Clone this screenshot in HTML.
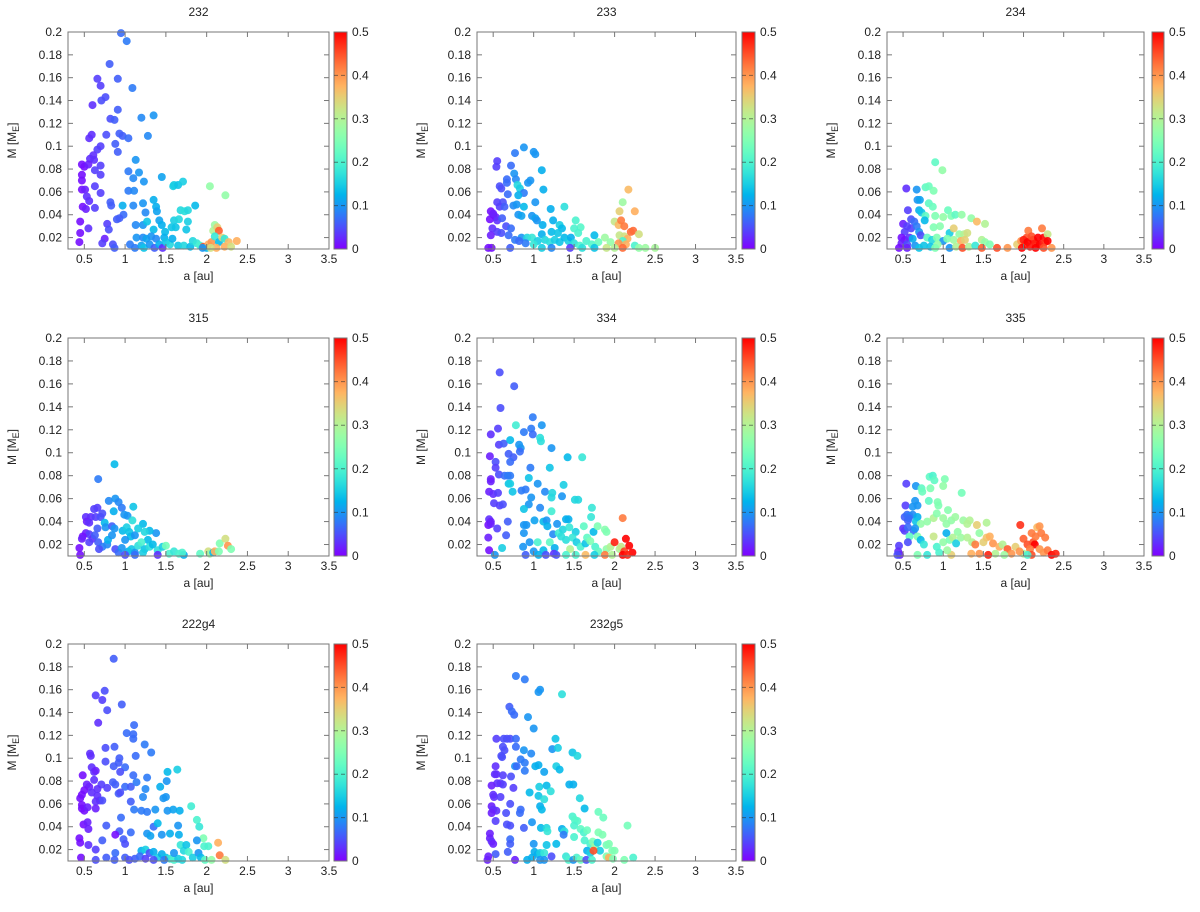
<!DOCTYPE html>
<html><head><meta charset="utf-8"><style>
html,body{margin:0;padding:0;background:#fff;}
svg{display:block;font-family:"Liberation Sans",sans-serif;}
</style></head><body>
<svg id="fig" width="1200" height="912" viewBox="0 0 1200 912" xmlns="http://www.w3.org/2000/svg">
<defs>
<linearGradient id="rb" x1="0" y1="1" x2="0" y2="0"></linearGradient>
</defs>
</svg>
<script>
const xTicks = [0.5,1,1.5,2,2.5,3,3.5];
const xTickLabels = ["0.5","1","1.5","2","2.5","3","3.5"];
const yTicks = [0.02,0.04,0.06,0.08,0.1,0.12,0.14,0.16,0.18,0.2];
const yTickLabels = ["0.02","0.04","0.06","0.08","0.1","0.12","0.14","0.16","0.18","0.2"];
const cbTicks = [0,0.1,0.2,0.3,0.4,0.5];
const cbTickLabels = ["0","0.1","0.2","0.3","0.4","0.5"];
const panelTitles = ["232","233","234","315","334","335","222g4","232g5"];

const pts232 = [[0.95,0.199,0.07],[1.02,0.192,0.08],[0.81,0.172,0.06],[0.66,0.159,0.04],[0.91,0.159,0.06],[0.70,0.153,0.04],[1.09,0.151,0.08],[0.76,0.143,0.05],[0.71,0.140,0.05],[0.60,0.136,0.03],[0.91,0.132,0.06],[1.20,0.125,0.09],[1.35,0.127,0.1],[0.82,0.124,0.05],[0.87,0.123,0.06],[1.28,0.109,0.09],[0.77,0.110,0.05],[0.93,0.111,0.06],[0.97,0.109,0.06],[1.04,0.107,0.07],[0.56,0.107,0.03],[0.59,0.110,0.03],[0.70,0.100,0.04],[0.66,0.097,0.04],[0.88,0.102,0.06],[0.91,0.095,0.06],[0.61,0.092,0.03],[0.57,0.089,0.03],[0.62,0.088,0.03],[0.47,0.084,0.01],[0.50,0.082,0.01],[0.55,0.084,0.02],[0.70,0.083,0.04],[0.63,0.079,0.04],[0.47,0.075,0.01],[0.70,0.075,0.04],[1.04,0.078,0.08],[1.13,0.088,0.1],[1.17,0.077,0.1],[1.10,0.072,0.09],[1.23,0.069,0.1],[1.45,0.073,0.11],[0.47,0.070,0.01],[0.47,0.062,0.01],[0.51,0.062,0.02],[0.63,0.065,0.04],[0.70,0.059,0.04],[1.04,0.061,0.08],[1.11,0.061,0.09],[1.59,0.065,0.15],[1.60,0.066,0.15],[1.65,0.066,0.14],[1.71,0.069,0.15],[2.04,0.065,0.27],[2.23,0.057,0.27],[0.53,0.056,0.03],[0.56,0.052,0.03],[0.48,0.047,0.01],[0.52,0.045,0.02],[0.63,0.046,0.04],[0.82,0.051,0.06],[0.83,0.048,0.06],[0.97,0.048,0.12],[1.10,0.048,0.09],[1.22,0.050,0.1],[1.35,0.053,0.12],[1.38,0.047,0.12],[1.39,0.043,0.11],[1.25,0.042,0.09],[1.86,0.048,0.13],[1.68,0.044,0.16],[1.73,0.043,0.17],[1.77,0.044,0.16],[0.90,0.036,0.06],[0.98,0.040,0.07],[0.93,0.037,0.06],[0.45,0.034,0.01],[0.78,0.032,0.04],[0.80,0.027,0.05],[0.55,0.028,0.03],[0.45,0.024,0.01],[0.44,0.016,0.01],[0.75,0.019,0.02],[0.72,0.015,0.04],[0.85,0.014,0.05],[0.87,0.011,0.06],[1.13,0.031,0.09],[1.22,0.031,0.1],[1.27,0.034,0.14],[1.35,0.027,0.13],[1.42,0.035,0.11],[1.45,0.031,0.12],[1.49,0.025,0.13],[1.48,0.020,0.12],[1.57,0.029,0.14],[1.60,0.035,0.15],[1.62,0.029,0.14],[1.66,0.036,0.16],[1.77,0.034,0.15],[1.75,0.027,0.14],[1.14,0.020,0.1],[1.22,0.020,0.09],[1.26,0.019,0.11],[1.32,0.021,0.1],[1.38,0.019,0.09],[1.06,0.014,0.08],[1.12,0.011,0.08],[1.20,0.013,0.11],[1.23,0.011,0.14],[1.30,0.014,0.1],[1.36,0.011,0.06],[1.42,0.014,0.12],[1.46,0.011,0.03],[1.50,0.016,0.14],[1.55,0.014,0.16],[1.58,0.019,0.12],[1.65,0.013,0.14],[1.72,0.013,0.16],[1.80,0.012,0.13],[1.83,0.017,0.16],[1.88,0.015,0.18],[1.92,0.013,0.2],[1.96,0.012,0.45],[2.00,0.011,0.13],[2.02,0.014,0.38],[2.06,0.016,0.4],[2.08,0.026,0.3],[2.10,0.031,0.28],[2.13,0.029,0.35],[2.15,0.026,0.44],[2.10,0.021,0.18],[2.15,0.016,0.13],[2.19,0.020,0.35],[2.22,0.019,0.18],[2.22,0.012,0.38],[2.27,0.016,0.37],[2.30,0.012,0.33],[2.37,0.017,0.38],[2.12,0.011,0.38],[2.05,0.011,0.33],[1.95,0.011,0.1]];

const pts233 = [[0.88,0.099,0.1],[1.00,0.095,0.1],[1.02,0.093,0.1],[0.77,0.094,0.08],[0.55,0.087,0.04],[0.54,0.082,0.04],[0.72,0.083,0.07],[1.10,0.079,0.12],[0.76,0.076,0.1],[0.78,0.071,0.09],[0.67,0.071,0.07],[0.67,0.068,0.07],[0.93,0.068,0.1],[0.96,0.070,0.1],[0.80,0.066,0.16],[0.83,0.063,0.15],[0.58,0.065,0.05],[0.60,0.063,0.05],[1.12,0.062,0.12],[0.88,0.059,0.08],[0.68,0.058,0.07],[0.81,0.057,0.12],[0.55,0.051,0.04],[0.62,0.051,0.05],[0.58,0.047,0.04],[0.64,0.047,0.06],[0.75,0.048,0.09],[0.79,0.049,0.1],[0.88,0.047,0.13],[1.02,0.051,0.1],[1.21,0.045,0.12],[1.38,0.047,0.17],[0.47,0.043,0.01],[0.50,0.040,0.01],[0.53,0.038,0.02],[0.46,0.036,0.01],[0.55,0.035,0.03],[0.50,0.041,0.02],[0.61,0.037,0.06],[0.81,0.040,0.1],[0.85,0.039,0.11],[0.98,0.039,0.1],[1.02,0.037,0.11],[1.04,0.035,0.1],[1.11,0.031,0.12],[1.24,0.035,0.12],[1.32,0.031,0.15],[1.35,0.028,0.13],[1.52,0.035,0.2],[1.58,0.029,0.21],[1.50,0.028,0.2],[1.55,0.024,0.2],[1.22,0.025,0.13],[1.30,0.024,0.14],[1.10,0.023,0.12],[0.66,0.030,0.05],[0.72,0.028,0.07],[0.49,0.028,0.03],[0.55,0.025,0.04],[0.47,0.022,0.02],[0.60,0.024,0.05],[0.69,0.022,0.07],[0.77,0.018,0.08],[0.85,0.020,0.1],[0.92,0.020,0.16],[0.98,0.020,0.18],[1.05,0.017,0.15],[1.00,0.014,0.18],[1.14,0.018,0.16],[1.20,0.016,0.17],[1.26,0.018,0.15],[1.32,0.016,0.14],[1.38,0.020,0.13],[1.43,0.017,0.15],[1.46,0.020,0.12],[1.50,0.015,0.17],[1.57,0.013,0.2],[1.65,0.017,0.2],[1.72,0.014,0.21],[1.75,0.022,0.13],[1.80,0.016,0.23],[1.88,0.020,0.28],[1.95,0.016,0.27],[2.00,0.034,0.32],[2.06,0.043,0.35],[2.10,0.051,0.28],[2.17,0.062,0.37],[2.25,0.043,0.38],[2.05,0.031,0.37],[2.08,0.035,0.42],[2.12,0.030,0.42],[2.06,0.022,0.32],[2.12,0.021,0.33],[2.16,0.019,0.38],[2.20,0.025,0.43],[2.23,0.026,0.43],[2.30,0.023,0.33],[2.10,0.017,0.2],[2.05,0.015,0.4],[2.14,0.014,0.38],[2.25,0.013,0.2],[2.30,0.011,0.27],[2.38,0.011,0.28],[2.50,0.011,0.29],[2.00,0.011,0.3],[1.90,0.011,0.32],[2.10,0.011,0.43],[0.44,0.011,0.01],[0.48,0.011,0.01],[0.71,0.011,0.06],[1.10,0.011,0.15],[1.22,0.011,0.09],[1.45,0.011,0.04],[1.60,0.011,0.17],[1.75,0.011,0.14],[0.90,0.015,0.08],[0.82,0.017,0.07]];

const pts234 = [[0.90,0.086,0.22],[0.99,0.079,0.27],[0.54,0.063,0.03],[0.67,0.062,0.1],[0.78,0.064,0.22],[0.82,0.065,0.23],[0.88,0.061,0.25],[0.68,0.053,0.1],[0.71,0.053,0.11],[0.82,0.050,0.22],[0.87,0.047,0.23],[0.56,0.044,0.04],[0.70,0.044,0.12],[0.73,0.042,0.14],[0.78,0.039,0.22],[0.77,0.035,0.13],[1.06,0.044,0.23],[1.10,0.039,0.25],[1.15,0.040,0.22],[1.00,0.038,0.27],[1.23,0.040,0.27],[1.35,0.037,0.27],[1.42,0.034,0.37],[1.52,0.032,0.3],[0.90,0.039,0.25],[0.60,0.036,0.05],[0.64,0.034,0.07],[0.50,0.032,0.02],[0.55,0.030,0.04],[0.60,0.028,0.04],[0.52,0.025,0.04],[0.67,0.030,0.08],[0.70,0.025,0.1],[0.88,0.029,0.25],[0.96,0.030,0.26],[1.08,0.024,0.15],[1.13,0.028,0.35],[1.20,0.023,0.27],[1.26,0.023,0.3],[1.30,0.024,0.33],[0.48,0.020,0.01],[0.52,0.018,0.01],[0.58,0.020,0.03],[0.48,0.015,0.02],[0.55,0.014,0.05],[0.62,0.019,0.12],[0.72,0.022,0.05],[0.80,0.020,0.22],[0.86,0.018,0.16],[0.92,0.020,0.25],[1.00,0.017,0.1],[1.05,0.019,0.25],[1.13,0.018,0.28],[1.22,0.017,0.38],[1.27,0.018,0.35],[1.48,0.018,0.3],[1.52,0.016,0.27],[1.58,0.014,0.25],[0.65,0.013,0.1],[0.76,0.013,0.14],[0.84,0.012,0.14],[0.93,0.014,0.27],[1.08,0.011,0.1],[1.16,0.012,0.3],[1.24,0.011,0.45],[1.32,0.012,0.3],[1.40,0.013,0.18],[1.48,0.011,0.44],[1.67,0.011,0.45],[1.80,0.011,0.4],[1.92,0.014,0.35],[1.97,0.017,0.4],[2.02,0.014,0.45],[2.04,0.020,0.45],[2.06,0.026,0.42],[2.00,0.018,0.48],[2.05,0.016,0.5],[2.08,0.012,0.49],[2.12,0.018,0.5],[2.15,0.015,0.48],[2.10,0.021,0.45],[2.18,0.020,0.5],[2.20,0.014,0.5],[2.23,0.028,0.42],[2.25,0.020,0.5],[2.27,0.016,0.47],[2.30,0.023,0.32],[2.30,0.017,0.5],[2.35,0.011,0.4],[2.15,0.011,0.5],[1.98,0.011,0.5],[2.25,0.011,0.45],[0.45,0.011,0.01],[0.55,0.011,0.02],[0.70,0.011,0.14],[0.90,0.011,0.25]];

const pts315 = [[0.87,0.090,0.13],[0.67,0.077,0.08],[0.80,0.058,0.09],[0.88,0.060,0.1],[0.92,0.057,0.09],[0.96,0.052,0.08],[1.10,0.053,0.14],[0.62,0.051,0.04],[0.66,0.052,0.04],[0.72,0.047,0.05],[0.86,0.049,0.12],[0.99,0.046,0.1],[1.03,0.045,0.1],[0.52,0.044,0.03],[0.58,0.044,0.03],[0.64,0.044,0.04],[0.70,0.044,0.05],[1.09,0.041,0.17],[1.22,0.038,0.13],[1.38,0.030,0.1],[1.30,0.032,0.13],[0.75,0.039,0.13],[0.76,0.035,0.1],[0.84,0.036,0.06],[0.87,0.034,0.1],[0.97,0.032,0.13],[1.02,0.035,0.15],[1.05,0.031,0.14],[1.07,0.027,0.13],[1.12,0.028,0.1],[1.16,0.034,0.15],[1.24,0.031,0.16],[1.28,0.024,0.13],[0.53,0.040,0.02],[0.56,0.039,0.03],[0.66,0.034,0.06],[0.52,0.030,0.02],[0.56,0.029,0.04],[0.48,0.027,0.01],[0.60,0.025,0.03],[0.63,0.028,0.06],[0.67,0.022,0.06],[0.72,0.018,0.08],[0.68,0.016,0.05],[0.78,0.020,0.09],[0.79,0.024,0.12],[0.84,0.028,0.1],[0.88,0.016,0.05],[0.92,0.013,0.07],[0.96,0.017,0.1],[1.00,0.024,0.1],[1.04,0.014,0.12],[1.08,0.016,0.14],[1.12,0.013,0.1],[1.16,0.019,0.17],[1.20,0.022,0.2],[1.24,0.016,0.14],[1.30,0.018,0.17],[1.34,0.020,0.13],[1.40,0.015,0.17],[1.46,0.018,0.15],[1.50,0.019,0.24],[1.54,0.012,0.2],[1.60,0.014,0.18],[1.66,0.012,0.2],[1.72,0.011,0.12],[1.70,0.013,0.2],[1.92,0.012,0.22],[2.02,0.014,0.33],[2.04,0.012,0.28],[2.08,0.013,0.13],[2.10,0.014,0.38],[2.16,0.021,0.25],[2.15,0.014,0.25],[2.23,0.025,0.33],[2.26,0.019,0.4],[2.30,0.016,0.25],[0.44,0.017,0.01],[0.45,0.011,0.01],[0.47,0.025,0.02],[1.00,0.011,0.05],[1.12,0.011,0.07],[1.40,0.011,0.03],[1.22,0.013,0.15],[0.56,0.022,0.04]];

const pts334 = [[0.58,0.170,0.05],[0.76,0.158,0.06],[0.59,0.139,0.05],[0.99,0.131,0.08],[0.78,0.124,0.19],[0.56,0.121,0.04],[0.47,0.116,0.03],[0.88,0.118,0.08],[0.97,0.121,0.08],[0.99,0.116,0.07],[1.10,0.124,0.1],[1.08,0.113,0.17],[1.09,0.110,0.17],[0.57,0.107,0.04],[0.63,0.108,0.06],[0.71,0.111,0.13],[0.82,0.107,0.1],[0.84,0.104,0.1],[1.22,0.104,0.1],[0.46,0.097,0.02],[0.69,0.099,0.06],[0.75,0.096,0.06],[0.71,0.092,0.07],[0.83,0.101,0.07],[0.53,0.092,0.05],[0.53,0.087,0.04],[0.96,0.087,0.08],[1.20,0.087,0.14],[1.42,0.096,0.13],[1.60,0.096,0.18],[0.57,0.081,0.05],[0.64,0.080,0.07],[0.68,0.080,0.08],[0.71,0.080,0.08],[0.47,0.077,0.02],[0.47,0.075,0.02],[0.94,0.078,0.14],[1.05,0.073,0.1],[0.69,0.073,0.14],[0.71,0.073,0.15],[1.37,0.072,0.15],[0.45,0.066,0.02],[0.50,0.064,0.03],[0.56,0.065,0.04],[0.74,0.066,0.14],[0.85,0.067,0.08],[0.90,0.068,0.08],[1.14,0.066,0.09],[1.23,0.065,0.16],[1.22,0.061,0.16],[1.35,0.062,0.1],[1.51,0.059,0.16],[1.55,0.059,0.16],[0.51,0.056,0.04],[0.58,0.054,0.04],[0.62,0.055,0.05],[0.94,0.055,0.1],[0.97,0.061,0.1],[0.88,0.051,0.14],[1.08,0.052,0.09],[1.22,0.049,0.19],[1.72,0.052,0.18],[0.45,0.042,0.03],[0.47,0.040,0.02],[0.44,0.037,0.01],[0.47,0.038,0.02],[0.68,0.040,0.06],[0.88,0.037,0.1],[0.91,0.037,0.1],[1.01,0.041,0.11],[1.12,0.040,0.13],[1.16,0.041,0.1],[1.17,0.036,0.12],[1.24,0.029,0.09],[1.29,0.038,0.1],[1.31,0.030,0.19],[1.36,0.033,0.16],[1.40,0.042,0.12],[1.43,0.042,0.12],[1.44,0.035,0.18],[1.52,0.031,0.15],[1.62,0.036,0.22],[1.71,0.044,0.18],[1.74,0.031,0.13],[1.79,0.036,0.25],[1.88,0.033,0.26],[1.90,0.031,0.25],[2.10,0.043,0.42],[0.55,0.034,0.04],[0.66,0.028,0.06],[0.88,0.030,0.1],[0.44,0.026,0.02],[0.45,0.015,0.01],[0.61,0.017,0.15],[0.52,0.011,0.1],[0.87,0.018,0.1],[0.95,0.022,0.1],[1.05,0.022,0.2],[1.12,0.015,0.13],[1.20,0.022,0.22],[1.26,0.017,0.12],[1.34,0.027,0.17],[1.40,0.024,0.17],[1.45,0.016,0.3],[1.48,0.026,0.18],[1.53,0.022,0.15],[1.58,0.018,0.2],[1.64,0.021,0.14],[1.66,0.026,0.22],[1.70,0.023,0.25],[1.76,0.018,0.2],[1.80,0.014,0.22],[1.90,0.016,0.27],[1.95,0.018,0.3],[2.00,0.022,0.48],[2.06,0.016,0.3],[2.08,0.018,0.32],[2.12,0.014,0.46],[2.14,0.025,0.5],[2.18,0.019,0.5],[2.22,0.013,0.5],[2.10,0.011,0.5],[2.16,0.011,0.48],[0.90,0.011,0.06],[1.00,0.014,0.1],[1.06,0.011,0.12],[1.15,0.011,0.05],[1.25,0.012,0.03],[1.28,0.011,0.05],[1.40,0.011,0.2],[1.52,0.011,0.2],[1.64,0.011,0.37],[1.75,0.011,0.15],[1.88,0.011,0.42],[1.97,0.011,0.3]];

const pts335 = [[0.54,0.073,0.04],[0.66,0.071,0.1],[0.83,0.079,0.22],[0.87,0.080,0.2],[0.89,0.076,0.22],[1.02,0.077,0.25],[1.00,0.071,0.27],[0.73,0.069,0.22],[0.74,0.066,0.23],[0.84,0.069,0.25],[1.23,0.065,0.24],[0.53,0.054,0.04],[0.62,0.053,0.1],[0.65,0.058,0.1],[0.68,0.054,0.1],[0.82,0.058,0.22],[0.93,0.057,0.25],[0.94,0.054,0.25],[1.06,0.050,0.26],[0.52,0.044,0.06],[0.55,0.046,0.07],[0.58,0.045,0.08],[0.62,0.046,0.09],[0.68,0.044,0.12],[0.56,0.041,0.06],[0.57,0.043,0.07],[0.66,0.040,0.14],[0.72,0.038,0.27],[0.80,0.040,0.27],[0.88,0.043,0.3],[0.92,0.047,0.26],[1.00,0.043,0.28],[1.04,0.038,0.27],[1.10,0.041,0.27],[1.15,0.044,0.28],[1.25,0.041,0.28],[1.30,0.038,0.3],[1.33,0.041,0.3],[1.42,0.037,0.35],[1.54,0.039,0.3],[1.45,0.030,0.27],[0.50,0.034,0.03],[0.52,0.032,0.04],[0.56,0.035,0.07],[0.63,0.032,0.07],[0.65,0.034,0.1],[0.68,0.027,0.25],[0.58,0.027,0.22],[0.56,0.022,0.05],[0.72,0.024,0.13],[0.76,0.020,0.18],[0.88,0.027,0.32],[0.92,0.018,0.2],[1.00,0.022,0.27],[1.04,0.030,0.12],[1.08,0.024,0.25],[1.12,0.026,0.3],[1.16,0.021,0.15],[1.18,0.031,0.27],[1.22,0.026,0.28],[1.30,0.026,0.3],[1.36,0.022,0.3],[1.40,0.020,0.42],[1.50,0.022,0.35],[1.54,0.026,0.36],[1.58,0.027,0.38],[1.62,0.021,0.4],[1.70,0.018,0.38],[1.74,0.020,0.3],[1.80,0.016,0.44],[1.90,0.018,0.35],[1.96,0.037,0.47],[2.00,0.025,0.44],[2.05,0.020,0.45],[2.10,0.030,0.42],[2.12,0.022,0.45],[2.15,0.027,0.42],[2.17,0.035,0.37],[2.20,0.036,0.4],[2.22,0.030,0.42],[2.27,0.026,0.42],[2.14,0.020,0.5],[2.08,0.016,0.42],[2.20,0.016,0.4],[2.25,0.013,0.4],[2.30,0.015,0.42],[2.35,0.011,0.5],[2.40,0.012,0.48],[2.00,0.012,0.3],[1.95,0.014,0.4],[1.85,0.012,0.4],[1.76,0.011,0.28],[1.65,0.012,0.3],[1.56,0.011,0.48],[1.45,0.012,0.4],[1.35,0.012,0.38],[1.10,0.011,0.35],[0.80,0.011,0.18],[0.68,0.011,0.25],[0.45,0.019,0.04],[0.44,0.014,0.03],[0.46,0.011,0.02],[0.43,0.011,0.05],[2.10,0.011,0.45],[2.05,0.011,0.2],[0.95,0.013,0.2],[1.05,0.015,0.28]];

const pts222g4 = [[0.86,0.187,0.06],[0.64,0.155,0.04],[0.75,0.159,0.05],[0.72,0.151,0.04],[0.96,0.147,0.06],[0.78,0.142,0.05],[0.67,0.131,0.03],[1.11,0.129,0.07],[1.02,0.122,0.07],[1.10,0.121,0.07],[1.10,0.117,0.07],[1.24,0.112,0.08],[0.76,0.109,0.05],[0.87,0.110,0.06],[1.32,0.105,0.08],[0.57,0.104,0.03],[0.58,0.102,0.03],[1.13,0.102,0.07],[0.93,0.100,0.06],[0.76,0.097,0.05],[0.92,0.096,0.06],[0.59,0.092,0.03],[0.62,0.088,0.03],[0.86,0.093,0.06],[1.00,0.092,0.07],[0.94,0.088,0.05],[1.52,0.088,0.13],[1.64,0.090,0.15],[0.64,0.089,0.02],[0.48,0.085,0.01],[1.10,0.085,0.07],[1.27,0.083,0.08],[0.62,0.081,0.03],[0.85,0.079,0.06],[0.88,0.077,0.06],[0.71,0.077,0.04],[0.78,0.074,0.04],[1.00,0.075,0.07],[1.07,0.075,0.06],[1.14,0.079,0.08],[1.43,0.075,0.12],[1.51,0.080,0.1],[0.53,0.077,0.02],[0.56,0.075,0.02],[0.50,0.072,0.01],[0.47,0.068,0.01],[0.45,0.065,0.01],[0.59,0.070,0.03],[0.66,0.073,0.03],[0.66,0.067,0.03],[0.69,0.063,0.03],[0.72,0.063,0.05],[0.64,0.062,0.03],[0.92,0.069,0.06],[0.94,0.070,0.05],[1.22,0.066,0.09],[1.25,0.073,0.09],[1.47,0.065,0.1],[1.50,0.066,0.1],[0.47,0.059,0.01],[0.47,0.056,0.01],[0.50,0.054,0.01],[0.54,0.057,0.02],[0.64,0.056,0.02],[1.07,0.062,0.06],[1.11,0.055,0.08],[1.20,0.054,0.08],[1.27,0.053,0.08],[1.37,0.055,0.1],[1.52,0.054,0.1],[1.59,0.055,0.11],[1.67,0.054,0.12],[1.81,0.058,0.19],[1.88,0.046,0.2],[1.91,0.040,0.18],[0.95,0.048,0.07],[0.77,0.041,0.06],[0.49,0.042,0.01],[0.54,0.044,0.02],[0.55,0.038,0.02],[0.93,0.036,0.06],[1.07,0.035,0.07],[0.88,0.033,0.01],[1.27,0.034,0.1],[1.31,0.032,0.11],[1.35,0.040,0.07],[1.40,0.043,0.13],[1.45,0.033,0.1],[1.55,0.034,0.12],[1.65,0.041,0.1],[1.66,0.033,0.12],[0.98,0.029,0.06],[1.00,0.025,0.05],[0.72,0.028,0.06],[0.44,0.030,0.01],[0.45,0.026,0.01],[0.55,0.024,0.03],[0.64,0.020,0.04],[1.96,0.030,0.25],[1.97,0.023,0.2],[2.02,0.023,0.2],[2.14,0.026,0.38],[2.16,0.015,0.42],[2.23,0.011,0.33],[1.88,0.028,0.1],[1.68,0.024,0.18],[1.72,0.019,0.16],[1.75,0.024,0.14],[1.78,0.018,0.2],[1.83,0.013,0.15],[1.90,0.017,0.1],[1.93,0.013,0.13],[1.98,0.011,0.22],[2.06,0.011,0.27],[1.20,0.019,0.12],[1.25,0.020,0.15],[1.30,0.017,0.05],[1.35,0.018,0.12],[1.40,0.013,0.15],[1.45,0.016,0.12],[1.50,0.013,0.14],[1.55,0.012,0.18],[1.60,0.011,0.2],[1.65,0.012,0.15],[1.70,0.011,0.16],[1.60,0.017,0.1],[0.46,0.013,0.01],[0.64,0.011,0.05],[0.77,0.013,0.06],[0.87,0.011,0.06],[0.88,0.017,0.07],[1.00,0.013,0.06],[1.05,0.011,0.05],[1.12,0.012,0.06],[1.18,0.014,0.07],[1.25,0.012,0.04],[1.35,0.011,0.05],[1.48,0.011,0.08]];

const pts232g5 = [[0.78,0.172,0.08],[0.89,0.169,0.08],[1.06,0.158,0.1],[1.08,0.160,0.1],[1.35,0.156,0.17],[0.70,0.145,0.06],[0.73,0.141,0.07],[0.76,0.138,0.07],[0.93,0.136,0.1],[1.00,0.126,0.1],[0.54,0.117,0.04],[0.63,0.117,0.05],[0.67,0.117,0.05],[0.71,0.117,0.05],[0.78,0.117,0.07],[1.27,0.117,0.14],[0.62,0.110,0.05],[0.64,0.107,0.05],[0.78,0.110,0.07],[0.88,0.107,0.1],[1.23,0.108,0.1],[1.30,0.109,0.15],[0.61,0.101,0.05],[0.60,0.102,0.05],[0.84,0.099,0.08],[0.97,0.104,0.09],[1.48,0.105,0.14],[1.54,0.102,0.16],[0.53,0.093,0.03],[0.77,0.093,0.1],[0.79,0.093,0.07],[0.89,0.096,0.08],[0.89,0.089,0.08],[1.02,0.093,0.12],[1.06,0.094,0.12],[1.13,0.088,0.11],[1.28,0.093,0.15],[1.32,0.090,0.13],[0.52,0.086,0.03],[0.54,0.086,0.03],[0.62,0.085,0.04],[0.72,0.084,0.05],[0.59,0.078,0.04],[0.62,0.077,0.04],[0.55,0.078,0.03],[0.48,0.076,0.02],[0.75,0.074,0.04],[1.07,0.075,0.15],[1.16,0.076,0.13],[1.44,0.077,0.12],[1.49,0.077,0.12],[0.50,0.068,0.03],[0.51,0.066,0.03],[0.59,0.066,0.04],[0.95,0.070,0.13],[1.06,0.067,0.14],[1.13,0.064,0.17],[1.21,0.071,0.17],[0.71,0.060,0.05],[0.48,0.058,0.02],[0.50,0.055,0.03],[0.54,0.054,0.03],[0.48,0.052,0.02],[0.66,0.052,0.05],[0.84,0.055,0.07],[0.83,0.052,0.07],[1.08,0.058,0.12],[1.10,0.055,0.13],[1.57,0.065,0.16],[1.63,0.056,0.13],[1.48,0.049,0.2],[1.51,0.046,0.21],[1.54,0.045,0.21],[1.50,0.041,0.2],[1.80,0.053,0.23],[1.86,0.048,0.23],[2.16,0.041,0.24],[0.53,0.045,0.04],[0.67,0.042,0.05],[0.71,0.041,0.05],[0.88,0.039,0.06],[0.98,0.044,0.1],[1.09,0.039,0.13],[1.16,0.039,0.16],[1.17,0.036,0.18],[1.35,0.038,0.12],[1.38,0.036,0.17],[1.37,0.033,0.08],[1.58,0.038,0.22],[1.62,0.035,0.2],[1.66,0.037,0.23],[1.50,0.031,0.2],[1.63,0.028,0.2],[1.80,0.035,0.25],[1.85,0.033,0.25],[0.46,0.034,0.02],[0.46,0.030,0.02],[0.48,0.027,0.03],[0.50,0.025,0.02],[0.71,0.029,0.07],[0.71,0.025,0.06],[1.00,0.025,0.1],[1.28,0.025,0.13],[1.16,0.024,0.14],[1.70,0.025,0.2],[1.73,0.027,0.25],[1.76,0.023,0.28],[1.79,0.026,0.15],[1.90,0.024,0.24],[1.93,0.025,0.25],[0.53,0.016,0.06],[0.68,0.018,0.06],[0.44,0.014,0.02],[0.43,0.011,0.02],[0.77,0.011,0.02],[0.92,0.011,0.12],[0.98,0.013,0.12],[1.01,0.018,0.12],[1.05,0.016,0.12],[1.08,0.017,0.15],[1.13,0.017,0.18],[1.08,0.011,0.1],[1.22,0.014,0.05],[1.13,0.011,0.1],[1.40,0.014,0.18],[1.43,0.011,0.2],[1.49,0.011,0.1],[1.53,0.013,0.2],[1.58,0.011,0.23],[1.65,0.011,0.05],[1.66,0.019,0.12],[1.70,0.017,0.15],[1.82,0.019,0.15],[1.90,0.014,0.25],[1.93,0.013,0.38],[1.97,0.019,0.25],[2.00,0.019,0.25],[1.98,0.012,0.25],[2.12,0.011,0.25],[2.23,0.013,0.2],[1.72,0.011,0.2],[1.74,0.019,0.45]];

const panelData = [pts232, pts233, pts234, pts315, pts334, pts335, pts222g4, pts232g5];

const NS = "http://www.w3.org/2000/svg";
const svg = document.getElementById("fig");
const colL = [68, 477, 887], colR = [329, 736, 1144], cbL = [334, 742, 1152], cbW = [13, 13, 12];
const rowT = [32, 338, 644], rowB = [249, 556, 861];
const XMIN = 0.3, XMAX = 3.5, YMIN = 0.01, YMAX = 0.2, EMAX = 0.5;

function pal(t) {
  t = Math.max(0, Math.min(1, t));
  const r = Math.min(1, Math.abs(2 * t - 0.5));
  const g = Math.max(0, Math.sin(Math.PI * t));
  const b = Math.max(0, Math.cos(Math.PI * t / 2));
  return "rgb(" + Math.round(r * 255) + "," + Math.round(g * 255) + "," + Math.round(b * 255) + ")";
}
function mk(tag, attrs, parent) {
  const el = document.createElementNS(NS, tag);
  for (const k in attrs) el.setAttribute(k, attrs[k]);
  (parent || svg).appendChild(el);
  return el;
}
// gradient
const grad = document.getElementById("rb");
for (let i = 0; i <= 20; i++) {
  const st = document.createElementNS(NS, "stop");
  st.setAttribute("offset", (i / 20));
  st.setAttribute("stop-color", pal(i / 20));
  grad.appendChild(st);
}

panelData.forEach((pts, idx) => {
  const c = idx % 3, r = Math.floor(idx / 3);
  const L = colL[c], R = colR[c], T = rowT[r], B = rowB[r];
  const sx = a => L + (a - XMIN) / (XMAX - XMIN) * (R - L);
  const sy = m => B - (m - YMIN) / (YMAX - YMIN) * (B - T);
  const g = mk("g", {});
  
  

  const title = mk("text", {x: (L + R) / 2, y: T - 16, "text-anchor": "middle", "font-size": 12, fill: "#222"}, g);
  title.textContent = panelTitles[idx];
  
  

  // points
  const pg = mk("g", {}, g);
  
  
  pts.forEach(p => {
    const dot = mk("circle", {cx: sx(p[0]).toFixed(1), cy: sy(p[1]).toFixed(1), r: 4, fill: pal(p[2] / EMAX), "fill-opacity": 0.9}, pg);
    
    
  });

  // frame
  const fr = mk("rect", {x: L, y: T, width: R - L, height: B - T, fill: "none", stroke: "#777", "stroke-width": 1}, g);
  
  

  // x ticks
  xTicks.forEach((v, i) => {
    const x = sx(v);
    mk("line", {x1: x, y1: B, x2: x, y2: B - 5, stroke: "#777"}, g);
    mk("line", {x1: x, y1: T, x2: x, y2: T + 5, stroke: "#777"}, g);
    const t = mk("text", {x: x, y: B + 14, "text-anchor": "middle", "font-size": 12, fill: "#222"}, g);
    t.textContent = xTickLabels[i];
    
    
  });
  yTicks.forEach((v, i) => {
    const y = sy(v);
    mk("line", {x1: L, y1: y, x2: L + 5, y2: y, stroke: "#777"}, g);
    mk("line", {x1: R, y1: y, x2: R - 5, y2: y, stroke: "#777"}, g);
    const t = mk("text", {x: L - 6, y: y + 4, "text-anchor": "end", "font-size": 12, fill: "#222"}, g);
    t.textContent = yTickLabels[i];
    
    
  });
  const xl = mk("text", {x: (L + R) / 2, y: B + 31, "text-anchor": "middle", "font-size": 12, fill: "#222"}, g);
  xl.textContent = "a [au]";
  
  
  const yl = mk("text", {x: 0, y: 0, "text-anchor": "middle", "font-size": 12, fill: "#222", transform: "translate(" + (L - 52) + "," + ((T + B) / 2) + ") rotate(-90)"}, g);
  yl.innerHTML = 'M [M<tspan font-size="9" dy="3">E</tspan><tspan dy="-3">]</tspan>';
  
  

  // colorbar
  const cx = cbL[c], cw = cbW[c];
  const cb = mk("rect", {x: cx, y: T, width: cw, height: B - T, fill: "url(#rb)", stroke: "#777", "stroke-width": 1}, g);
  
  
  cbTicks.forEach((v, i) => {
    const y = B - v / EMAX * (B - T);
    if (i > 0 && i < cbTicks.length - 1) {
      mk("line", {x1: cx, y1: y, x2: cx + cw, y2: y, stroke: "#333", "stroke-width": 1, "stroke-dasharray": "4,3", "stroke-opacity": 0.6}, g);
    }
    const t = mk("text", {x: cx + cw + 5, y: y + 4, "font-size": 12, fill: "#222"}, g);
    t.textContent = cbTickLabels[i];
    
    
  });
});
</script>
</body></html>
